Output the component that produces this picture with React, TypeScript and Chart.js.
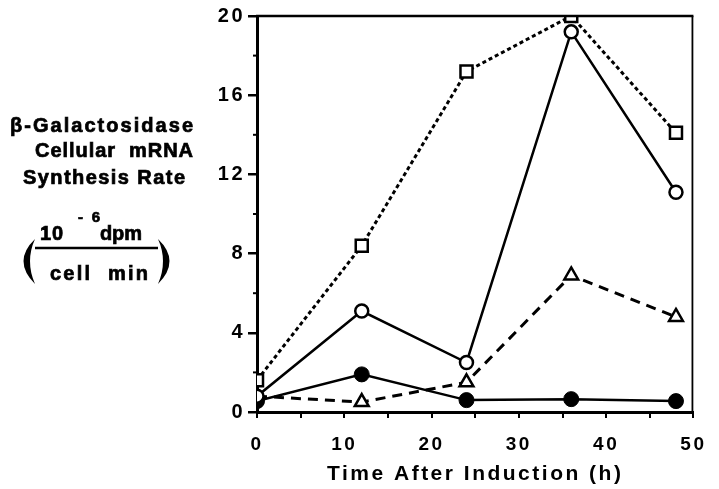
import React, { useEffect, useRef } from "react";
import { Chart, registerables } from "chart.js";

Chart.register(...registerables);

const xValues = [0, 12, 24, 36, 48];
const squareSeries = [1.6, 8.4, 17.2, 20.0, 14.1];
const openCircleSeries = [0.8, 5.1, 2.5, 19.2, 11.1];
const filledCircleSeries = [0.55, 1.9, 0.6, 0.65, 0.55];
const triangleSeries = [0.8, 0.5, 1.5, 6.9, 4.8];
const yMinorTicks = [2, 6, 10, 14, 18];
const xTitle = "Time After Induction (h)";
const yTitleLines = ["β-Galactosidase", "Cellular  mRNA", "Synthesis Rate"];

const FONT = "'Liberation Sans', Arial, Helvetica, sans-serif";

function spacedText(ctx: CanvasRenderingContext2D, text: string, xl: number, xr: number, base: number, font: string) {
  ctx.font = font;
  (ctx as any).letterSpacing = "0px";
  const w = ctx.measureText(text).width;
  const n = text.length;
  const sp = n > 1 ? (xr - xl - w) / (n - 1) : 0;
  (ctx as any).letterSpacing = sp + "px";
  ctx.textAlign = "left";
  ctx.textBaseline = "alphabetic";
  ctx.lineWidth = 0.7;
  ctx.fillText(text, xl, base);
  ctx.strokeText(text, xl, base);
  (ctx as any).letterSpacing = "0px";
}

const decorPlugin = {
  id: "decor",
  beforeDraw(chart: any) {
    (chart.ctx as any).letterSpacing = "2.5px";
  },
  afterDraw(chart: any) {
    const ctx: CanvasRenderingContext2D = chart.ctx;
    const { left, right, top, bottom } = chart.chartArea;
    const ys = chart.scales.y;
    ctx.save();
    (ctx as any).letterSpacing = "0px";
    ctx.fillStyle = "#000";
    ctx.strokeStyle = "#000";
    // box top & right
    ctx.lineWidth = 2.5;
    ctx.beginPath();
    ctx.moveTo(left - 1, top);
    ctx.lineTo(right, top);
    ctx.stroke();
    ctx.lineWidth = 1.8;
    ctx.beginPath();
    ctx.moveTo(right - 1, top);
    ctx.lineTo(right - 1, bottom);
    ctx.stroke();
    // minor y ticks
    ctx.lineWidth = 2;
    for (const v of yMinorTicks) {
      const py = ys.getPixelForValue(v);
      ctx.beginPath();
      ctx.moveTo(left - 4, py);
      ctx.lineTo(left, py);
      ctx.stroke();
    }
    // left label
    const f = `bold 20px ${FONT}`;
    spacedText(ctx, yTitleLines[0], 10, 193, 132, f);
    spacedText(ctx, yTitleLines[1], 35, 193, 157, f);
    spacedText(ctx, yTitleLines[2], 23, 185, 184, f);
    // fraction
    spacedText(ctx, "10", 40, 63, 240, f);
    spacedText(ctx, "dpm", 100, 142, 240, f);
    spacedText(ctx, "- 6", 78, 100, 222, `bold 15px ${FONT}`);
    spacedText(ctx, "cell  min", 50, 148, 280, f);
    ctx.lineWidth = 2.5;
    ctx.beginPath();
    ctx.moveTo(35, 248);
    ctx.lineTo(158, 248);
    ctx.stroke();
    // parentheses
    ctx.beginPath();
    ctx.moveTo(35, 239);
    ctx.quadraticCurveTo(12, 261, 35, 284);
    ctx.quadraticCurveTo(25, 261, 35, 239);
    ctx.fill();
    ctx.beginPath();
    ctx.moveTo(158, 239);
    ctx.quadraticCurveTo(181, 261, 158, 284);
    ctx.quadraticCurveTo(168, 261, 158, 239);
    ctx.fill();
    ctx.restore();
  },
};

export default function App() {
  const ref = useRef<HTMLCanvasElement | null>(null);
  useEffect(() => {
    if (!ref.current) return;
    const pts = (arr: number[]) => xValues.map((x, i) => ({ x, y: arr[i] }));
    const chart = new Chart(ref.current, {
      type: "scatter",
      data: {
        datasets: [
          {
            label: "open circles",
            data: pts(openCircleSeries),
            showLine: true,
            borderColor: "#000",
            borderWidth: 2.5,
            pointStyle: "circle",
            pointRadius: 6.5,
            pointBorderWidth: 2.5,
            pointBackgroundColor: "#fff",
            pointBorderColor: "#000",
            order: 1,
          },
          {
            label: "filled circles",
            data: pts(filledCircleSeries),
            showLine: true,
            borderColor: "#000",
            borderWidth: 2.5,
            pointStyle: "circle",
            pointRadius: 7.5,
            pointBorderWidth: 1,
            pointBackgroundColor: "#000",
            pointBorderColor: "#000",
            order: 2,
          },
          {
            label: "squares",
            data: pts(squareSeries),
            showLine: true,
            borderColor: "#000",
            borderWidth: 3,
            borderDash: [4, 3],
            pointStyle: "rect",
            pointRadius: 8.5,
            pointBorderWidth: 2.5,
            pointBackgroundColor: "#fff",
            pointBorderColor: "#000",
            order: 3,
          },
          {
            label: "triangles",
            data: pts(triangleSeries),
            showLine: true,
            borderColor: "#000",
            borderWidth: 3,
            borderDash: [10, 7],
            pointStyle: "triangle",
            pointRadius: [0, 8, 8, 8, 8],
            pointBorderWidth: 2.5,
            pointBackgroundColor: "#fff",
            pointBorderColor: "#000",
            order: 4,
          },
        ],
      },
      options: {
        responsive: false,
        animation: false,
        layout: { padding: { left: 217, right: 15, top: 16, bottom: 0 } },
        plugins: { legend: { display: false }, tooltip: { enabled: false } },
        scales: {
          x: {
            type: "linear",
            min: 0,
            max: 50,
            afterFit: (s: any) => {
              s.height = 77;
            },
            ticks: {
              stepSize: 5,
              autoSkip: false,
              maxRotation: 0,
              padding: 15,
              color: "#000",
              font: { family: FONT, size: 19, weight: "bold" },
              callback: (v: any) => (Number(v) % 10 === 0 ? String(v) : ""),
            },
            grid: {
              drawOnChartArea: false,
              drawTicks: true,
              tickLength: 6,
              color: "#000",
              lineWidth: 2,
            },
            border: { display: true, color: "#000", width: 3 },
            title: {
              display: true,
              text: xTitle,
              color: "#000",
              font: { family: FONT, size: 21, weight: "bold" },
              padding: { top: 0, bottom: 2 },
            },
          },
          y: {
            type: "linear",
            min: 0,
            max: 20,
            afterFit: (s: any) => {
              s.width = 40;
            },
            ticks: {
              stepSize: 4,
              padding: 3,
              color: "#000",
              font: { family: FONT, size: 20, weight: "bold" },
            },
            grid: {
              drawOnChartArea: false,
              drawTicks: true,
              tickLength: 9,
              color: "#000",
              lineWidth: 2.5,
            },
            border: { display: true, color: "#000", width: 3 },
          },
        },
      },
      plugins: [decorPlugin],
    });
    return () => chart.destroy();
  }, []);
  return (
    <div style={{ position: "fixed", left: 0, top: 0, width: 719, height: 489, background: "#fff" }}>
      <canvas ref={ref} width={719} height={489} style={{ display: "block" }} />
    </div>
  );
}
